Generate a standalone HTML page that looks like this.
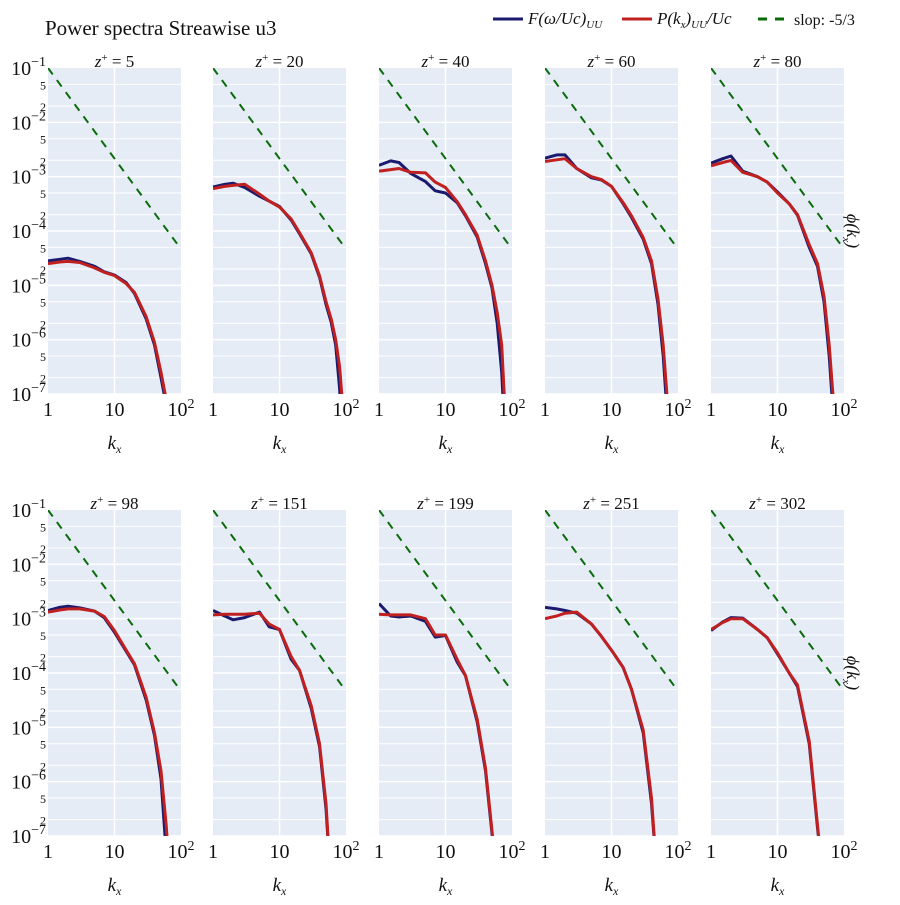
<!DOCTYPE html>
<html><head><meta charset="utf-8">
<style>
body{margin:0;background:#fff;}
svg text{font-family:"Liberation Serif","DejaVu Serif",serif;fill:#111;}
</style></head>
<body>
<svg id="chart" width="900" height="900" viewBox="0 0 900 900" xmlns="http://www.w3.org/2000/svg">
<text x="45" y="35" font-size="21">Power spectra Streawise u3</text>
<g>
  <g><line x1="493" y1="19" x2="523" y2="19" stroke="#1a1a6e" stroke-width="3"/><text x="528" y="24" font-size="17" font-style="italic">F(ω/Uc)<tspan font-size="11" dy="4">UU</tspan></text></g>
  <g><line x1="622" y1="19" x2="652" y2="19" stroke="#c0201f" stroke-width="3"/><text x="657" y="24" font-size="17" font-style="italic">P(k<tspan font-size="11" dy="4">x</tspan><tspan dy="-4">)</tspan><tspan font-size="11" dy="4">UU</tspan><tspan dy="-4">/Uc</tspan></text></g>
  <g><line x1="758" y1="19" x2="788" y2="19" stroke="#0a6b0a" stroke-width="3" stroke-dasharray="9,8"/><text x="794" y="25" font-size="16">slop: -5/3</text></g>
</g>
<g id="panels"></g>
</svg>
<script>
const titles = ["5","20","40","60","80","98","151","199","251","302"];
const kVals = [1,1.5,2,3,5,7,10,15,20,30,40,50,60,70,80,90];
const blue1 = [-4.55,-4.52,-4.5,-4.56,-4.65,-4.75,-4.81,-4.95,-5.15,-5.62,-6.1,-6.7,-7.2,-8,-8,-8];
const red1  = [-4.6,-4.57,-4.56,-4.58,-4.68,-4.76,-4.82,-4.97,-5.13,-5.58,-6.05,-6.6,-7.1,-8,-8,-8];
const blue2 = [-3.19,-3.14,-3.12,-3.2,-3.36,-3.45,-3.55,-3.8,-4.05,-4.42,-4.85,-5.35,-5.68,-6.1,-6.9,-8];
const red2  = [-3.22,-3.18,-3.16,-3.14,-3.32,-3.45,-3.56,-3.78,-4.03,-4.4,-4.82,-5.3,-5.62,-6.0,-6.5,-7.3];
const blue3 = [-2.79,-2.71,-2.74,-2.94,-3.09,-3.26,-3.3,-3.48,-3.72,-4.11,-4.6,-5.05,-5.7,-6.6,-8,-8];
const red3  = [-2.9,-2.87,-2.85,-2.92,-2.93,-3.1,-3.2,-3.46,-3.7,-4.08,-4.55,-5.0,-5.5,-6.1,-7.5,-8];
const blue4 = [-2.66,-2.6,-2.6,-2.85,-3.02,-3.06,-3.18,-3.5,-3.75,-4.15,-4.6,-5.35,-6.3,-7.5,-8,-8];
const red4  = [-2.72,-2.69,-2.67,-2.85,-3.0,-3.05,-3.18,-3.48,-3.72,-4.12,-4.55,-5.25,-6.1,-7.2,-8,-8];
const blue5 = [-2.75,-2.67,-2.62,-2.9,-3.0,-3.1,-3.28,-3.5,-3.71,-4.3,-4.65,-5.3,-6.3,-7.5,-8,-8];
const red5  = [-2.8,-2.74,-2.7,-2.92,-3.0,-3.1,-3.3,-3.5,-3.7,-4.25,-4.6,-5.2,-6.1,-7.2,-8,-8];
const blue6 = [-2.85,-2.79,-2.77,-2.8,-2.86,-2.98,-3.25,-3.6,-3.85,-4.5,-5.15,-5.95,-7.3,-8,-8,-8];
const red6  = [-2.88,-2.84,-2.82,-2.82,-2.86,-2.96,-3.22,-3.58,-3.83,-4.45,-5.1,-5.8,-6.8,-8,-8,-8];
const blue7 = [-2.85,-2.95,-3.02,-2.98,-2.88,-3.15,-3.2,-3.75,-3.95,-4.65,-5.35,-6.5,-8,-8,-8,-8];
const red7  = [-2.93,-2.92,-2.92,-2.92,-2.9,-3.1,-3.2,-3.7,-3.95,-4.6,-5.3,-6.4,-8,-8,-8,-8];
const blue8 = [-2.72,-2.95,-2.97,-2.95,-3.05,-3.34,-3.31,-3.8,-4.05,-4.9,-5.8,-6.96,-8,-8,-8,-8];
const red8  = [-2.92,-2.93,-2.93,-2.93,-3.0,-3.3,-3.3,-3.75,-4.05,-4.85,-5.75,-6.9,-8,-8,-8,-8];
const blue9 = [-2.79,-2.82,-2.85,-2.9,-3.1,-3.32,-3.58,-3.9,-4.3,-5.1,-6.4,-8,-8,-8,-8,-8];
const red9  = [-3.0,-2.95,-2.9,-2.88,-3.1,-3.32,-3.58,-3.9,-4.3,-5.05,-6.3,-8,-8,-8,-8,-8];
const blue10= [-3.22,-3.06,-2.98,-2.99,-3.2,-3.35,-3.65,-4.0,-4.25,-5.3,-6.85,-8,-8,-8,-8,-8];
const red10 = [-3.2,-3.07,-3.0,-3.0,-3.2,-3.35,-3.63,-4.0,-4.22,-5.25,-6.8,-8,-8,-8,-8,-8];
const blueSeries=[blue1,blue2,blue3,blue4,blue5,blue6,blue7,blue8,blue9,blue10];
const redSeries=[red1,red2,red3,red4,red5,red6,red7,red8,red9,red10];
const yTickExp=[-1,-2,-3,-4,-5,-6,-7];
const xTickLabels=["1","10","10"];

const NS="http://www.w3.org/2000/svg";
const root=document.getElementById('panels');
const colX=[48,213,379,545,711], W=133;
const rowY=[68,510], H=326;
function mk(tag,attrs,parent){const e=document.createElementNS(NS,tag);for(const k in attrs)e.setAttribute(k,attrs[k]);parent.appendChild(e);return e;}
const defs=mk('defs',{},document.getElementById('chart'));
for(let p=0;p<10;p++){
  const r=Math.floor(p/5), c=p%5, x0=colX[c], y0=rowY[r];
  const xs=k=>x0+Math.log10(k)/2*W;
  const ys=e=>y0+(-1-e)/6*H;
  const g=mk('g',{},root);
  
  
  const bg=mk('rect',{x:x0,y:y0,width:W,height:H,fill:'#e5ecf6'},g);
  
  
  for(let d=-7;d<=-1;d++){
    [1,2,5].forEach(m=>{const v=d+Math.log10(m); if(v>-1.001) return; if(v<-7.001) return;
      mk('line',{x1:x0,x2:x0+W,y1:ys(v),y2:ys(v),stroke:'#fff','stroke-width':m==1?1.5:1},g);});
  }
  mk('line',{x1:xs(10),x2:xs(10),y1:y0,y2:y0+H,stroke:'#fff','stroke-width':1.5},g);
  const cp=mk('clipPath',{id:'cp'+p},defs);
  mk('rect',{x:x0,y:y0,width:W,height:H},cp);
  const sl=mk('line',{x1:xs(1),y1:ys(-1),x2:xs(100),y2:ys(-1-10/3),stroke:'#0a6b0a','stroke-width':2,'stroke-dasharray':'8,7','clip-path':'url(#cp'+p+')'},g);
  
  
  const ptsB=kVals.map((k,i)=>xs(k).toFixed(1)+','+ys(blueSeries[p][i]).toFixed(1)).join(' ');
  const pb=mk('polyline',{points:ptsB,fill:'none',stroke:'#1a1a6e','stroke-width':3,'stroke-linejoin':'round','clip-path':'url(#cp'+p+')'},g);
  
  
  const ptsR=kVals.map((k,i)=>xs(k).toFixed(1)+','+ys(redSeries[p][i]).toFixed(1)).join(' ');
  const pr=mk('polyline',{points:ptsR,fill:'none',stroke:'#c0201f','stroke-width':3,'stroke-linejoin':'round','clip-path':'url(#cp'+p+')'},g);
  
  
  const t=mk('text',{x:x0+W/2,y:y0-1,'font-size':17,'text-anchor':'middle'},g);
  t.innerHTML='<tspan font-style="italic">z</tspan><tspan font-size="11" dy="-6">+</tspan><tspan dy="6"> = '+titles[p]+'</tspan>';
  
  
  [1,10,100].forEach((k,i)=>{
    const tx=mk('text',{x:xs(k),y:y0+H+22,'font-size':20,'text-anchor':'middle'},g);
    tx.innerHTML=i==2?'10<tspan font-size="14" dy="-8">2</tspan>':xTickLabels[i];
    
    
  });
  const xt=mk('text',{x:x0+W/2,y:y0+H+55,'font-size':19,'text-anchor':'middle','font-style':'italic'},g);
  xt.innerHTML='k<tspan font-size="12" dy="4">x</tspan>';
  
  
  if(c==0){
    yTickExp.forEach(e=>{
      const ty=mk('text',{x:x0-2,y:ys(e)+7,'font-size':20,'text-anchor':'end'},g);
      ty.innerHTML='10<tspan font-size="14" dy="-9">'+(e<0?'−':'')+Math.abs(e)+'</tspan>';
      
      
      if(e>-7){[5,2].forEach(m=>{
        const mt=mk('text',{x:x0-2,y:ys(e-1+Math.log10(m))+5,'font-size':12,'text-anchor':'end'},g);
        mt.textContent=String(m);
        
        
      });}
    });
  }
  if(c==4){
    const yt=mk('text',{x:0,y:0,'font-size':18,'text-anchor':'middle','font-style':'italic',transform:'translate(847,'+(y0+H/2)+') rotate(90)'},g);
    yt.innerHTML='ϕ(k<tspan font-size="11" dy="4">x</tspan><tspan dy="-4">)</tspan>';
    
    
  }
}
</script>
</body></html>
